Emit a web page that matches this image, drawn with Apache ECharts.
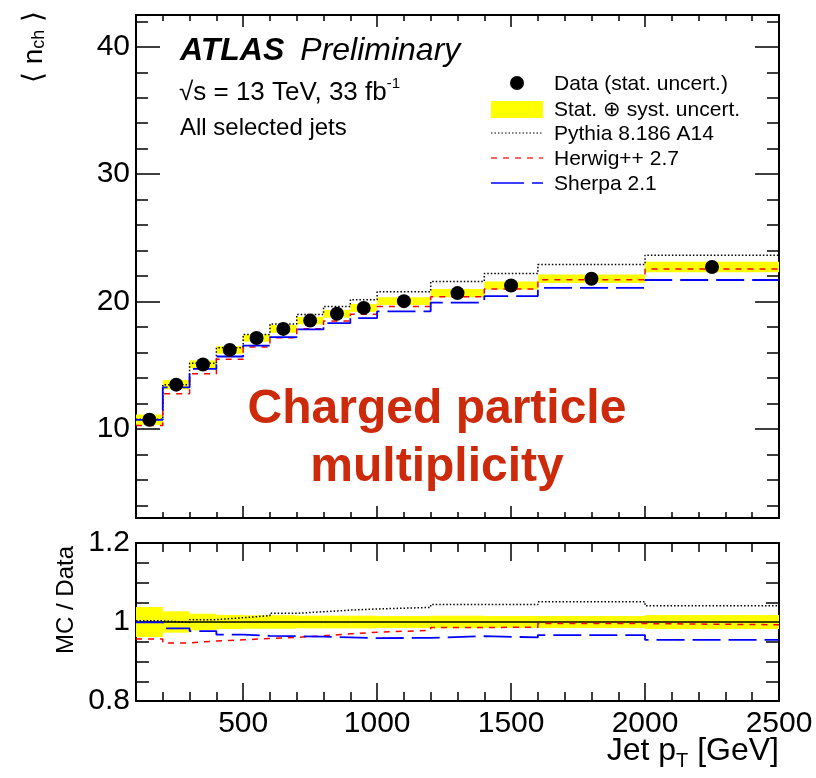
<!DOCTYPE html>
<html>
<head>
<meta charset="utf-8">
<script src="https://cdn.jsdelivr.net/npm/echarts@6/dist/echarts.min.js"></script>
<style>
html,body{margin:0;padding:0;background:#fff;}
#chart{width:816px;height:778px;}
</style>
</head>
<body>
<div id="chart"></div>
<script>
// ---- data ----
const binEdges = [100,200,300,400,500,600,700,800,900,1000,1200,1400,1600,2000,2500];
const dataNch = [10.72,13.47,15.06,16.20,17.14,17.85,18.50,19.04,19.50,20.03,20.66,21.26,21.79,22.71];
const totUncRel = [0.038,0.027,0.021,0.018,0.017,0.017,0.016,0.016,0.016,0.015,0.016,0.015,0.015,0.018];
const ratioPythia = [1.003,0.999,1.006,1.011,1.016,1.022,1.026,1.030,1.033,1.037,1.044,1.044,1.051,1.041];
const ratioHerwig = [0.957,0.947,0.952,0.955,0.958,0.961,0.965,0.970,0.974,0.979,0.986,0.987,0.996,0.993];
const ratioSherpa = [0.999,0.984,0.977,0.968,0.965,0.964,0.963,0.961,0.959,0.960,0.964,0.961,0.967,0.955];
const yMainLabels = [10,20,30,40];
const yMainMinor = [4,6,8,12,14,16,18,22,24,26,28,32,34,36,38,42];
const yRatioLabels = [0.8,1.0,1.2];
const yRatioMinor = [0.85,0.9,0.95,1.05,1.1,1.15];
const xMajorTicks = [500,1000,1500,2000,2500];
const xMinorTicks = [200,300,400,600,700,800,900,1100,1200,1300,1400,1600,1700,1800,1900,2100,2200,2300,2400];

// ---- derived ----
const FONT = 'Liberation Sans, Arial, Helvetica, sans-serif';
function stepPts(vals){const p=[];vals.forEach((v,i)=>{p.push([binEdges[i],v]);p.push([binEdges[i+1],v]);});return p;}
const mcPythia = ratioPythia.map((r,i)=>r*dataNch[i]);
const mcHerwig = ratioHerwig.map((r,i)=>r*dataNch[i]);
const mcSherpa = ratioSherpa.map((r,i)=>r*dataNch[i]);
const bandMain = dataNch.map((v,i)=>[binEdges[i],binEdges[i+1],v*(1-totUncRel[i]),v*(1+totUncRel[i])]);
const bandRatio = totUncRel.map((e,i)=>[binEdges[i],binEdges[i+1],1-e,1+e]);
const dataPts = dataNch.map((v,i)=>[(binEdges[i]+binEdges[i+1])/2,v]);
const dataRatio = dataNch.map(v=>v/v);

function bandItem(params, api){
  const p0 = api.coord([api.value(0), api.value(3)]);
  const p1 = api.coord([api.value(1), api.value(2)]);
  return {type:'rect', shape:{x:p0[0], y:p0[1], width:p1[0]-p0[0], height:p1[1]-p0[1]}, style:{fill:'#ffff00'}};
}

const G = [
  {left:136, top:15, width:643, height:503},
  {left:136, top:543, width:643, height:158}
];

function xAx(grid, pos, vals, len, line, labels){
  return {type:'value', gridIndex:grid, position:pos, min:100, max:2500,
    axisLine:{show:line, onZero:false, lineStyle:{color:'#000', width:2}},
    axisTick:{show:true, inside:true, length:len, customValues:vals, lineStyle:{color:'#000', width:1.5}},
    axisLabel:{show:labels, customValues:vals, formatter:v=>String(v), color:'#000', fontFamily:FONT, fontSize:30, margin:8},
    splitLine:{show:false}};
}
function yAx(grid, pos, min, max, vals, len, line, labels){
  return {type:'value', gridIndex:grid, position:pos, min:min, max:max,
    axisLine:{show:line, onZero:false, lineStyle:{color:'#000', width:2}},
    axisTick:{show:true, inside:true, length:len, customValues:vals, lineStyle:{color:'#000', width:1.5}},
    axisLabel:{show:labels, customValues:vals, formatter:v=>String(v), color:'#000', fontFamily:FONT, fontSize:30, margin:6},
    splitLine:{show:false}};
}

const xAxes = [
  xAx(0,'bottom',xMajorTicks,12,true,false),
  xAx(0,'bottom',xMinorTicks,6,false,false),
  xAx(0,'top',xMajorTicks,12,true,false),
  xAx(0,'top',xMinorTicks,6,false,false),
  xAx(1,'bottom',xMajorTicks,18,true,true),
  xAx(1,'bottom',xMinorTicks,9,false,false),
  xAx(1,'top',xMajorTicks,18,true,false),
  xAx(1,'top',xMinorTicks,9,false,false)
];
const yAxes = [
  yAx(0,'left',3,42.5,yMainLabels,24,true,true),
  yAx(0,'left',3,42.5,yMainMinor,12,false,false),
  yAx(0,'right',3,42.5,yMainLabels,24,true,false),
  yAx(0,'right',3,42.5,yMainMinor,12,false,false),
  yAx(1,'left',0.8,1.2,yRatioLabels,26,true,true),
  yAx(1,'left',0.8,1.2,yRatioMinor,13,false,false),
  yAx(1,'right',0.8,1.2,yRatioLabels,26,true,false),
  yAx(1,'right',0.8,1.2,yRatioMinor,13,false,false)
];

function stepLine(name, vals, xi, yi, color, dash, width, z){
  return {name:name, type:'line', xAxisIndex:xi, yAxisIndex:yi, data:stepPts(vals),
    symbol:'none', silent:true, clip:true, z:z,
    lineStyle:{color:color, width:width, type:dash, cap:'butt'}};
}

const DOT=[1.5,2], DASH=[6,6], LDASH=[28,8];

const series = [
  {type:'custom', name:'bandMain', xAxisIndex:0, yAxisIndex:0, data:bandMain, renderItem:bandItem, encode:{x:[0,1],y:[2,3]}, clip:true, z:1, silent:true},
  stepLine('Pythia 8.186 A14', mcPythia, 0, 0, '#000', DOT, 1.5, 3),
  stepLine('Herwig++ 2.7', mcHerwig, 0, 0, '#ff0000', DASH, 1.5, 3),
  stepLine('Sherpa 2.1', mcSherpa, 0, 0, '#0000ff', LDASH, 1.8, 3),
  {type:'scatter', name:'Data', xAxisIndex:0, yAxisIndex:0, data:dataPts, symbol:'circle', symbolSize:14, itemStyle:{color:'#000', opacity:1}, z:5, silent:true},
  {type:'custom', name:'bandRatio', xAxisIndex:4, yAxisIndex:4, data:bandRatio, renderItem:bandItem, encode:{x:[0,1],y:[2,3]}, clip:true, z:1, silent:true},
  stepLine('DataRatio', dataRatio, 4, 4, '#000', 'solid', 1.5, 2),
  stepLine('Pythia ratio', ratioPythia, 4, 4, '#000', DOT, 1.5, 3),
  stepLine('Herwig ratio', ratioHerwig, 4, 4, '#ff0000', DASH, 1.5, 3),
  stepLine('Sherpa ratio', ratioSherpa, 4, 4, '#0000ff', LDASH, 1.8, 3)
];

const LX0 = 491, LX1 = 543, LT = 554;
const legendRows = [83, 109, 133, 158, 183];
const legendTexts = ['Data (stat. uncert.)','Stat. ⊕ syst. uncert.','Pythia 8.186 A14','Herwig++ 2.7','Sherpa 2.1'];
const graphic = [
  {type:'text', left:180, top:35, style:{text:'{b|ATLAS}{g| }{i|Preliminary}', rich:{
    b:{fontFamily:FONT, fontSize:32, fontWeight:'bold', fontStyle:'italic', fill:'#000'},
    g:{fontFamily:FONT, fontSize:32, width:16, fill:'#000'},
    i:{fontFamily:FONT, fontSize:32, fontStyle:'italic', fill:'#000'}}}},
  {type:'text', left:179, top:76, style:{text:'{t|√s = 13 TeV, 33 fb}{s|-1}', rich:{
    t:{fontFamily:FONT, fontSize:26, fill:'#000', verticalAlign:'bottom'},
    s:{fontFamily:FONT, fontSize:15, fill:'#000', verticalAlign:'top', padding:[0,0,15,0]}}}},
  {type:'text', left:180, top:116, style:{text:'All selected jets', font:'24px '+FONT, fill:'#000'}},
  // legend
  {type:'circle', shape:{cx:517, cy:legendRows[0], r:7}, style:{fill:'#000'}},
  {type:'rect', shape:{x:LX0, y:legendRows[1]-8, width:LX1-LX0, height:17}, style:{fill:'#ffff00'}},
  {type:'line', shape:{x1:LX0, y1:legendRows[2], x2:LX1, y2:legendRows[2]}, style:{stroke:'#000', lineWidth:1.2, lineDash:DOT}},
  {type:'line', shape:{x1:LX0, y1:legendRows[3], x2:LX1, y2:legendRows[3]}, style:{stroke:'#ff0000', lineWidth:1.2, lineDash:DASH}},
  {type:'line', shape:{x1:LX0, y1:legendRows[4], x2:LX1, y2:legendRows[4]}, style:{stroke:'#0000ff', lineWidth:1.5, lineDash:[33,8]}},
  ...legendTexts.map((t,i)=>({type:'text', x:LT, y:legendRows[i]+1, style:{text:t, font:'21px '+FONT, fill:'#000', align:'left', verticalAlign:'middle'}})),
  // red annotation
  {type:'text', x:437, y:410, style:{text:'Charged particle', font:'bold 48px '+FONT, fill:'#cc2a0a', align:'center', verticalAlign:'middle'}},
  {type:'text', x:437, y:468, style:{text:'multiplicity', font:'bold 48px '+FONT, fill:'#cc2a0a', align:'center', verticalAlign:'middle'}},
  // axis titles
  {type:'text', x:34, y:47, rotation:Math.PI/2, style:{text:'{a|⟨ n}{s|ch}{a| ⟩}', align:'center', verticalAlign:'middle', rich:{
    a:{fontFamily:FONT, fontSize:28, fill:'#000', verticalAlign:'top'},
    s:{fontFamily:FONT, fontSize:18, fill:'#000', verticalAlign:'bottom', padding:[10,0,0,0]}}}},
  {type:'text', x:66, y:600, rotation:Math.PI/2, style:{text:'MC / Data', font:'24px '+FONT, fill:'#000', align:'center', verticalAlign:'middle'}},
  {type:'text', right:37, top:735, style:{text:'{a|Jet p}{s|T}{a| [GeV]}', rich:{
    a:{fontFamily:FONT, fontSize:32, fill:'#000', verticalAlign:'top'},
    s:{fontFamily:FONT, fontSize:20, fill:'#000', verticalAlign:'bottom', padding:[16,0,0,0]}}}}
];

const chart = echarts.init(document.getElementById('chart'), null, {renderer:'canvas'});
chart.setOption({
  animation:false,
  backgroundColor:'#fff',
  grid:G,
  xAxis:xAxes,
  yAxis:yAxes,
  series:series,
  graphic:graphic
});
</script>
</body>
</html>
